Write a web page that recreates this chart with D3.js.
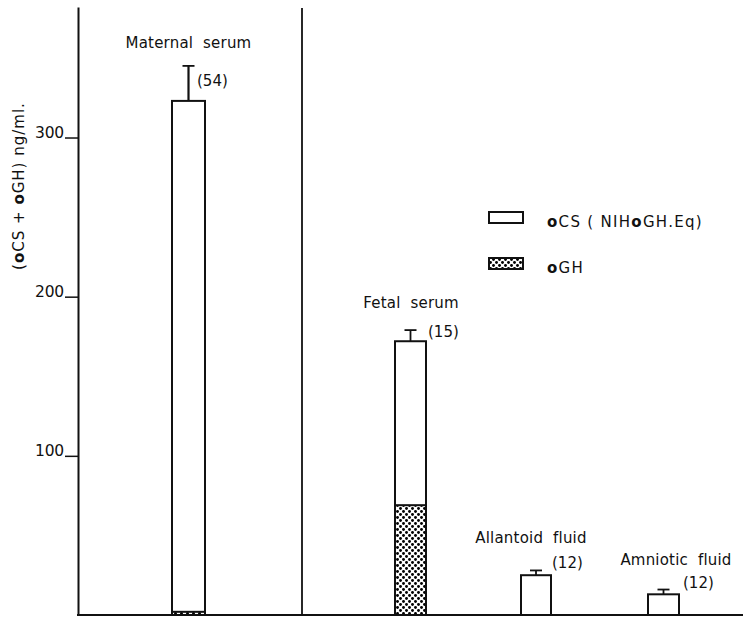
<!DOCTYPE html>
<html>
<head>
<meta charset="utf-8">
<script src="https://cdn.jsdelivr.net/npm/d3@7"></script>
<style>
  html, body { margin: 0; padding: 0; background: #fff; }
  svg { display: block; }
  text { font-family: "DejaVu Sans", "Liberation Sans", sans-serif; fill: #111; }
</style>
</head>
<body>
<svg id="chart" width="743" height="617"></svg>
<script>
// ---- data ----
const categories = ["Maternal serum", "Fetal serum", "Allantoid fluid", "Amniotic fluid"];
const totalValues = [323, 172, 25, 13];     // oCS + oGH (ng/ml)
const ghValues = [2, 69, 0, 0];             // oGH portion
const errorValues = [22, 7, 3, 3];          // SEM
const nLabels = ["(54)", "(15)", "(12)", "(12)"];
const yTicks = [100, 200, 300];
const legendLabels = [["o", "CS ( NIH", "o", "GH.Eq)"], ["o", "GH"]];

// ---- layout ----
const W = 743, H = 617;
const svg = d3.select("#chart");
const FONT = "'DejaVu Sans', 'Liberation Sans', sans-serif";

const y = d3.scaleLinear().domain([0, 382]).range([615, 7]);
const x = d3.scaleOrdinal().domain(categories).range([188.5, 410.5, 536, 663.5]);
const barWidths = {"Maternal serum": 33, "Fetal serum": 31, "Allantoid fluid": 30, "Amniotic fluid": 31};
const labelPos = {
  "Maternal serum": {dx: 0, y: 48},
  "Fetal serum": {dx: 0.5, y: 308},
  "Allantoid fluid": {dx: -5, y: 543},
  "Amniotic fluid": {dx: 12.5, y: 565}
};
const nPos = {
  "Maternal serum": {x: 197, y: 86},
  "Fetal serum": {x: 428, y: 337},
  "Allantoid fluid": {x: 552, y: 568},
  "Amniotic fluid": {x: 683, y: 588}
};

// stipple pattern
const defs = svg.append("defs");
const pat = defs.append("pattern").attr("id", "stipple")
  .attr("width", 6).attr("height", 6).attr("patternUnits", "userSpaceOnUse");
pat.append("rect").attr("width", 6).attr("height", 6).attr("fill", "#fff");
pat.append("circle").attr("cx", 1.5).attr("cy", 1.5).attr("r", 1.45).attr("fill", "#000");
pat.append("circle").attr("cx", 4.5).attr("cy", 4.5).attr("r", 1.45).attr("fill", "#000");

// y axis
const yAxis = d3.axisLeft(y).tickValues(yTicks).tickSizeInner(13).tickSizeOuter(0).tickPadding(1)
  .tickFormat(d3.format("d"));
const gy = svg.append("g").attr("transform", "translate(78,0)").call(yAxis);
gy.select(".domain").attr("stroke", "#111").attr("stroke-width", 2);
gy.selectAll(".tick line").attr("stroke", "#111").attr("stroke-width", 1.5);
gy.selectAll(".tick text").attr("dy", "0").attr("dominant-baseline", "auto")
  .style("font-family", FONT).style("letter-spacing", "-0.2px")
  .style("font-size", "15.5px").attr("fill", "#111");

// x axis baseline
svg.append("line").attr("x1", 77).attr("x2", W).attr("y1", y(0)).attr("y2", y(0))
  .attr("stroke", "#111").attr("stroke-width", 2);

// divider vertical line
svg.append("line").attr("x1", 302).attr("x2", 302).attr("y1", 8).attr("y2", y(0))
  .attr("stroke", "#111").attr("stroke-width", 1.8);

// y label
const yl = svg.append("text")
  .attr("transform", "translate(24,186) rotate(-90)")
  .attr("text-anchor", "middle").style("font-size", "15px").style("letter-spacing", "1px");
[["(", false], ["o", true], ["CS + ", false], ["o", true], ["GH) ng/ml.", false]].forEach(([t, b]) => {
  yl.append("tspan").text(t).attr("font-weight", b ? "bold" : "normal");
});

// bars
const data = categories.map((c, i) => ({c, total: totalValues[i], gh: ghValues[i], err: errorValues[i], n: nLabels[i]}));
const g = svg.append("g");

// error bars
data.forEach(d => {
  const cx = x(d.c);
  const sw = d.c === "Maternal serum" ? 2.2 : 1.8;
  g.append("line").attr("x1", cx).attr("x2", cx)
    .attr("y1", y(d.total)).attr("y2", y(d.total + d.err))
    .attr("stroke", "#111").attr("stroke-width", sw);
  g.append("line").attr("x1", cx - 6).attr("x2", cx + 6)
    .attr("y1", y(d.total + d.err)).attr("y2", y(d.total + d.err))
    .attr("stroke", "#111").attr("stroke-width", 1.8);
});

// oCS (white) part full bar
g.selectAll("rect.total").data(data).enter().append("rect")
  .attr("class", "total")
  .attr("x", d => x(d.c) - barWidths[d.c] / 2)
  .attr("width", d => barWidths[d.c])
  .attr("y", d => y(d.total))
  .attr("height", d => y(0) - y(d.total))
  .attr("fill", "#fff").attr("stroke", "#111").attr("stroke-width", 2);

// oGH stippled part
g.selectAll("rect.gh").data(data.filter(d => d.gh > 0)).enter().append("rect")
  .attr("class", "gh")
  .attr("x", d => x(d.c) - barWidths[d.c] / 2)
  .attr("width", d => barWidths[d.c])
  .attr("y", d => y(d.gh))
  .attr("height", d => y(0) - y(d.gh))
  .attr("fill", "url(#stipple)").attr("stroke", "#111").attr("stroke-width", 2);

// category labels
g.selectAll("text.cat").data(data).enter().append("text")
  .attr("class", "cat")
  .attr("x", d => x(d.c) + labelPos[d.c].dx)
  .attr("y", d => labelPos[d.c].y)
  .attr("text-anchor", "middle")
  .attr("xml:space", "preserve")
  .style("font-size", "15px").style("letter-spacing", "0.2px")
  .text(d => d.c.replace(" ", "  "));

// n labels
g.selectAll("text.n").data(data).enter().append("text")
  .attr("class", "n")
  .attr("x", d => nPos[d.c].x)
  .attr("y", d => nPos[d.c].y)
  .style("font-size", "15px")
  .text(d => d.n);

// legend
const legend = svg.append("g");
const legendY = [212, 258];
legendLabels.forEach((parts, i) => {
  legend.append("rect").attr("x", 489).attr("y", legendY[i]).attr("width", 34).attr("height", 11)
    .attr("fill", i === 0 ? "#fff" : "url(#stipple)").attr("stroke", "#111").attr("stroke-width", 2);
  const t = legend.append("text").attr("x", 547).attr("y", legendY[i] + 15)
    .style("font-size", "15px").style("letter-spacing", "1.3px");
  parts.forEach(p => t.append("tspan").text(p).attr("font-weight", p === "o" ? "bold" : "normal"));
});
</script>
</body>
</html>
